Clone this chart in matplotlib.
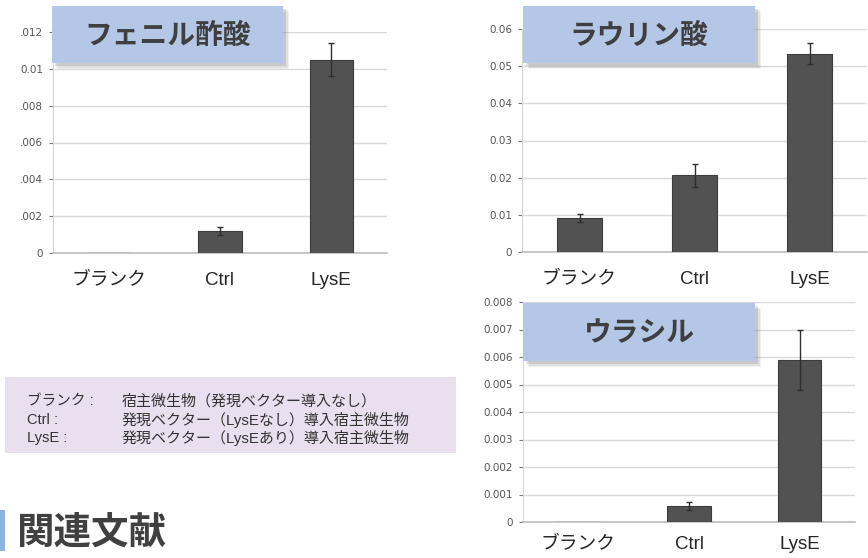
import numpy as np
import matplotlib
matplotlib.use('Agg')
import matplotlib.pyplot as plt
from matplotlib.patches import Rectangle

plt.rcParams['font.family'] = ['Liberation Sans', 'Noto Sans CJK JP', 'DejaVu Sans']

W, H = 868, 558

# data
categories = ['ブランク', 'Ctrl', 'LysE']

phenylacetic = [0.0, 0.0012, 0.0105]
phenylacetic_err = [0.0, 0.0002, 0.0009]
phenylacetic_ticks = [0, 0.002, 0.004, 0.006, 0.008, 0.010, 0.012]
phenylacetic_ticklabels = ['0', '.002', '.004', '.006', '.008', '0.01', '.012']

lauric = [0.0091, 0.0206, 0.0534]
lauric_err = [0.0011, 0.0030, 0.0027]
lauric_ticks = [0, 0.01, 0.02, 0.03, 0.04, 0.05, 0.06]
lauric_ticklabels = ['0', '0.01', '0.02', '0.03', '0.04', '0.05', '0.06']

uracil = [0.0, 0.00057, 0.0059]
uracil_err = [0.0, 0.00015, 0.0011]
uracil_ticks = [0, 0.001, 0.002, 0.003, 0.004, 0.005, 0.006, 0.007, 0.008]
uracil_ticklabels = ['0', '0.001', '0.002', '0.003', '0.004', '0.005', '0.006', '0.007', '0.008']

legend_keys = ['ブランク :', 'Ctrl :', 'LysE :']
legend_texts = ['宿主微生物（発現ベクター導入なし）',
                '発現ベクター（LysEなし）導入宿主微生物',
                '発現ベクター（LysEあり）導入宿主微生物']


def fx(x):
    return x / W


def fy(y):
    return 1 - y / H


def px_axes(fig, x0, y0, x1, y1):
    return fig.add_axes([fx(x0), fy(y1), (x1 - x0) / W, (y1 - y0) / H])


def fig_rect(fig, x0, y0, x1, y1, **kw):
    r = Rectangle((fx(x0), fy(y1)), (x1 - x0) / W, (y1 - y0) / H,
                  transform=fig.transFigure, **kw)
    fig.patches.append(r)
    return r


def bar_panel(fig, box, values, errs, ticks, ticklabels, xpad=14):
    ax = px_axes(fig, *box)
    x = np.arange(len(categories))
    ax.bar(x, values, width=0.39, color='#525252', edgecolor='#3c3c3c',
           linewidth=0.8, zorder=3)
    e = np.array(errs)
    m = e > 0
    ax.errorbar(x[m], np.array(values)[m], yerr=e[m], fmt='none',
                ecolor='#2e2e2e', elinewidth=1.0, capsize=2.5, zorder=4)
    ax.set_xlim(-0.5, 2.5)
    ax.set_ylim(ticks[0], ticks[-1])
    ax.set_yticks(ticks)
    ax.set_yticklabels(ticklabels, family='DejaVu Sans')
    ax.set_xticks(x)
    ax.set_xticklabels(categories)
    ax.grid(axis='y', color='#dadada', linewidth=1.0, zorder=0)
    for s in ['top', 'right']:
        ax.spines[s].set_visible(False)
    ax.spines['left'].set_color('#d6d6d6')
    ax.spines['bottom'].set_color('#bdbdbd')
    ax.spines['bottom'].set_linewidth(1.2)
    ax.tick_params(axis='y', labelsize=7.5, colors='#777777', length=3,
                   pad=4, labelcolor='#555555')
    ax.tick_params(axis='x', labelsize=13.5, length=0, pad=xpad,
                   labelcolor='#262626')
    return ax


def title_box(fig, x0, y0, x1, y1, text):
    for off, a in [(6, 0.08), (4.5, 0.12), (3, 0.18)]:
        fig_rect(fig, x0 + off, y0 + off, x1 + off, y1 + off,
                 facecolor='#606060', edgecolor='none', alpha=a, zorder=5)
    fig_rect(fig, x0, y0, x1, y1, facecolor='#b4c7e7', edgecolor='none', zorder=6)
    fig.text(fx((x0 + x1) / 2), fy((y0 + y1) / 2 + 1), text,
             family=['Noto Sans CJK JP'], fontweight='bold', fontsize=20,
             color='#3f3f3f', ha='center', va='center', zorder=7)


fig = plt.figure(figsize=(W / 100, H / 100), dpi=100)
fig.patch.set_facecolor('white')

bar_panel(fig, (53, 32, 387, 253), phenylacetic, phenylacetic_err,
          phenylacetic_ticks, phenylacetic_ticklabels)
bar_panel(fig, (522, 29, 867, 252), lauric, lauric_err,
          lauric_ticks, lauric_ticklabels)
bar_panel(fig, (523, 302, 855, 522), uracil, uracil_err,
          uracil_ticks, uracil_ticklabels, xpad=10)

title_box(fig, 52, 6, 283, 63, 'フェニル酢酸')
title_box(fig, 523, 6, 755, 63, 'ラウリン酸')
title_box(fig, 523, 303, 755, 361, 'ウラシル')

# legend box
fig_rect(fig, 5, 377, 456, 453, facecolor='#e9dfee', edgecolor='none', zorder=1)
for i, (k, t) in enumerate(zip(legend_keys, legend_texts)):
    yy = 401 + i * 18.5
    fig.text(fx(27), fy(yy), k, fontsize=10.5, color='#333333',
             ha='left', va='center', zorder=2)
    fig.text(fx(122), fy(yy), t, fontsize=10.8, color='#333333',
             ha='left', va='center', zorder=2)

# heading
fig_rect(fig, 0, 510, 5, 551, facecolor='#8db3e2', edgecolor='none')
fig.text(fx(16), fy(532), '関連文献', family=['Noto Sans CJK JP'],
         fontweight='bold', fontsize=27, color='#404040', ha='left', va='center')

fig.savefig('out.png', dpi=100)
